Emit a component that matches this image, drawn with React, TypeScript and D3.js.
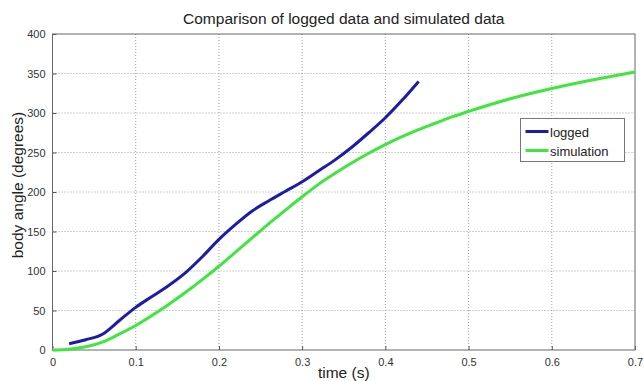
import React, { useEffect, useRef } from 'react';
import * as d3 from 'd3';

const loggedTime = [0.02, 0.04, 0.06, 0.08, 0.1, 0.12, 0.14, 0.16, 0.18, 0.2, 0.22, 0.24, 0.26, 0.28, 0.3, 0.32, 0.34, 0.36, 0.38, 0.4, 0.42, 0.44];
const loggedAngle = [8, 13, 20, 37, 54, 68, 82, 98, 118, 140, 159, 176, 189, 201, 213, 227, 241, 257, 275, 294, 316, 340];

const simTime = [0, 0.02, 0.04, 0.06, 0.08, 0.1, 0.12, 0.14, 0.16, 0.18, 0.2, 0.22, 0.24, 0.26, 0.28, 0.3, 0.32, 0.34, 0.36, 0.38, 0.4, 0.42, 0.44, 0.46, 0.48, 0.5, 0.55, 0.6, 0.65, 0.7];
const simAngle = [0, 1, 4, 10, 20, 31, 44, 58, 73, 89, 106, 124, 142, 160, 177, 194, 210, 224, 237, 249, 260, 270, 279, 287, 295, 302, 318, 331, 342, 352];

const xTicks = [0, 0.1, 0.2, 0.3, 0.4, 0.5, 0.6, 0.7];
const yTicks = [0, 50, 100, 150, 200, 250, 300, 350, 400];

const seriesNames = ['logged', 'simulation'];
const seriesColors = ['#1c1ca8', '#3ee63e'];

const W = 644;
const H = 381;
const font = 'Liberation Sans, Arial, sans-serif';

export default function App() {
  const svgRef = useRef<SVGSVGElement>(null);

  useEffect(() => {
    const svg = d3.select(svgRef.current);
    svg.selectAll('*').remove();

    const margin = { top: 34, right: 9, bottom: 31, left: 52.5 };
    const iw = W - margin.left - margin.right;
    const ih = H - margin.top - margin.bottom;

    svg.append('rect').attr('width', W).attr('height', H).attr('fill', '#fff');

    const g = svg.append('g').attr('transform', `translate(${margin.left},${margin.top})`);

    const x = d3.scaleLinear().domain([0, 0.7]).range([0, iw]);
    const y = d3.scaleLinear().domain([0, 400]).range([ih, 0]);

    // dotted grid
    g.selectAll('line.gx')
      .data(xTicks.slice(1, -1))
      .join('line')
      .attr('x1', (d) => x(d))
      .attr('x2', (d) => x(d))
      .attr('y1', 0)
      .attr('y2', ih)
      .attr('stroke', '#888')
      .attr('stroke-width', 0.8)
      .attr('stroke-dasharray', '1,2');
    g.selectAll('line.gy')
      .data(yTicks.slice(1, -1))
      .join('line')
      .attr('x1', 0)
      .attr('x2', iw)
      .attr('y1', (d) => y(d))
      .attr('y2', (d) => y(d))
      .attr('stroke', '#888')
      .attr('stroke-width', 0.8)
      .attr('stroke-dasharray', '1,2');

    // axes, ticks pointing in
    const xAxis = g
      .append('g')
      .attr('transform', `translate(0,${ih})`)
      .call(d3.axisBottom(x).tickValues(xTicks).tickSize(-4).tickPadding(8).tickFormat((d) => String(d)));
    const yAxis = g
      .append('g')
      .call(d3.axisLeft(y).tickValues(yTicks).tickSize(-4).tickPadding(7).tickFormat((d) => String(d)));
    [xAxis, yAxis].forEach((a) => {
      a.select('.domain').remove();
      a.selectAll('line').attr('stroke', '#555');
      a.selectAll('text').attr('font-family', font).attr('font-size', 11).attr('fill', '#333');
    });

    g.append('rect')
      .attr('width', iw)
      .attr('height', ih)
      .attr('fill', 'none')
      .attr('stroke', '#666')
      .attr('stroke-width', 1);

    const line = d3
      .line<[number, number]>()
      .x((d) => x(d[0]))
      .y((d) => y(d[1]))
      .curve(d3.curveMonotoneX);

    const simData = simTime.map((t, i) => [t, simAngle[i]] as [number, number]);
    const loggedData = loggedTime.map((t, i) => [t, loggedAngle[i]] as [number, number]);

    g.append('path')
      .datum(simData)
      .attr('d', line)
      .attr('fill', 'none')
      .attr('stroke', seriesColors[1])
      .attr('stroke-width', 3);
    g.append('path')
      .datum(loggedData)
      .attr('d', line)
      .attr('fill', 'none')
      .attr('stroke', seriesColors[0])
      .attr('stroke-width', 3);

    svg.append('text')
      .attr('x', margin.left + iw / 2)
      .attr('y', 24)
      .attr('text-anchor', 'middle')
      .attr('font-family', font)
      .attr('font-size', 15.5)
      .attr('fill', '#222')
      .text('Comparison of logged data and simulated data');
    svg.append('text')
      .attr('x', margin.left + iw / 2)
      .attr('y', 378)
      .attr('text-anchor', 'middle')
      .attr('font-family', font)
      .attr('font-size', 15.5)
      .attr('fill', '#222')
      .text('time (s)');
    svg.append('text')
      .attr('transform', `translate(23,${margin.top + ih / 2 - 7}) rotate(-90)`)
      .attr('text-anchor', 'middle')
      .attr('font-family', font)
      .attr('font-size', 15.5)
      .attr('fill', '#222')
      .text('body angle (degrees)');

    // legend
    const lg = svg.append('g').attr('transform', 'translate(520.5,118.5)');
    lg.append('rect')
      .attr('width', 104)
      .attr('height', 43)
      .attr('fill', '#fff')
      .attr('stroke', '#777')
      .attr('stroke-width', 1);
    seriesNames.forEach((name, i) => {
      const yy = 13 + i * 19;
      lg.append('line')
        .attr('x1', 5)
        .attr('x2', 28)
        .attr('y1', yy)
        .attr('y2', yy)
        .attr('stroke', seriesColors[i])
        .attr('stroke-width', 3);
      lg.append('text')
        .attr('x', 29.5)
        .attr('y', yy + 5)
        .attr('font-family', font)
        .attr('font-size', 13)
        .attr('fill', '#222')
        .text(name);
    });
  }, []);

  return (
    <svg
      ref={svgRef}
      width={W}
      height={H}
      style={{ position: 'absolute', left: 0, top: 0 }}
    />
  );
}
